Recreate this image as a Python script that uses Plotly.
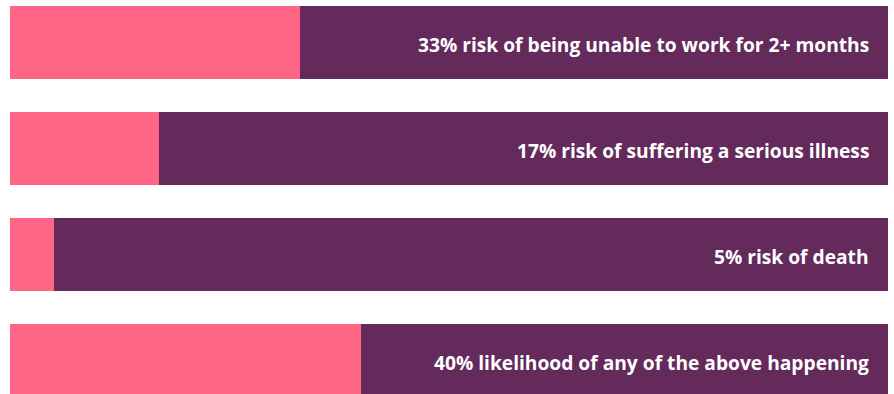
import plotly.graph_objects as go

categories = ["unable_to_work", "serious_illness", "death", "any"]
risk_pct = [33, 17, 5, 40]
labels = [
    "33% risk of being unable to work for 2+ months",
    "17% risk of suffering a serious illness",
    "5% risk of death",
    "40% likelihood of any of the above happening",
]
rest_pct = [100 - v for v in risk_pct]

PINK = "#FF6584"
PURPLE = "#632A5B"

ypos = list(range(len(categories)))

fig = go.Figure()
fig.add_trace(go.Bar(y=ypos, x=risk_pct, orientation="h", marker=dict(color=PINK, line_width=0),
                     width=0.689, hoverinfo="skip"))
fig.add_trace(go.Bar(y=ypos, x=rest_pct, orientation="h", marker=dict(color=PURPLE, line_width=0),
                     width=0.689, hoverinfo="skip"))

for i, t in enumerate(labels):
    fig.add_annotation(x=100, y=ypos[i], xref="x", yref="y", text=f"<b>{t}</b>",
                       showarrow=False, xanchor="right", xshift=-17, yshift=-2,
                       font=dict(family="Open Sans", size=19.2, color="white"))

fig.update_layout(
    barmode="stack",
    width=894, height=394,
    margin=dict(l=10, r=6, t=0, b=0),
    paper_bgcolor="white", plot_bgcolor="white",
    showlegend=False,
    xaxis=dict(range=[0, 100], visible=False, fixedrange=True),
    yaxis=dict(range=[3.316, -0.401], visible=False, fixedrange=True),
)

fig.write_html("out.html", config={"displayModeBar": False})
